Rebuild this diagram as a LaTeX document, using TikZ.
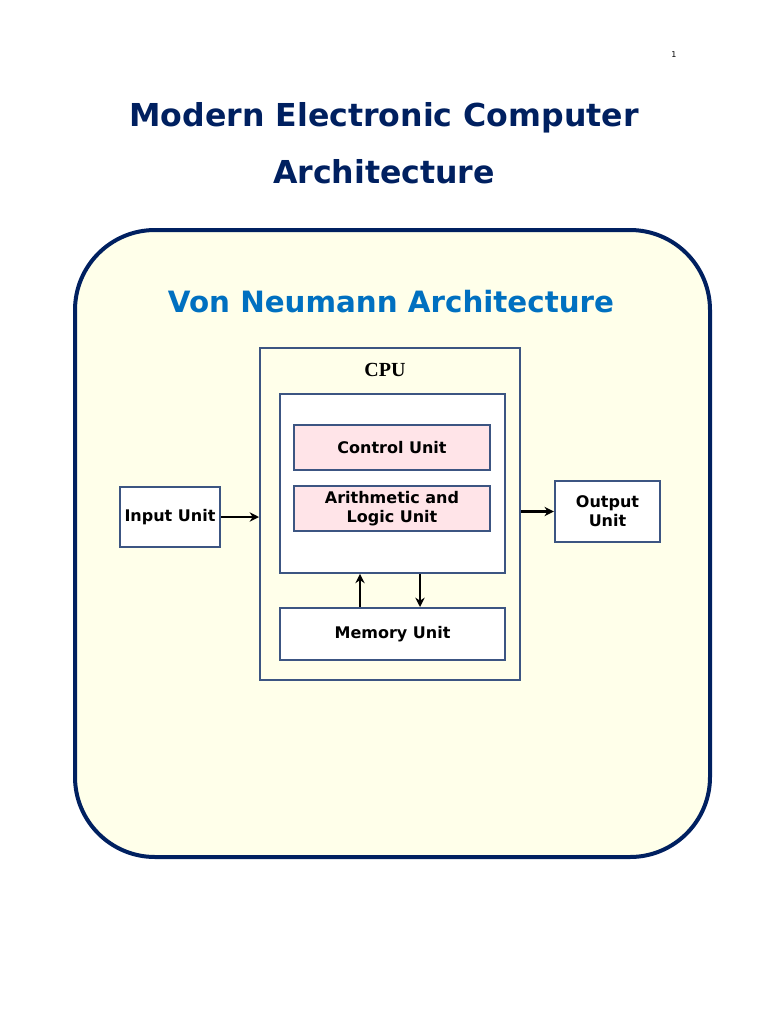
\documentclass[tikz,border=0pt]{standalone}
\usepackage{fontspec}
\setmainfont{DejaVu Sans}
\usetikzlibrary{positioning,arrows.meta}
\definecolor{navy}{RGB}{0,32,96}
\definecolor{vonblue}{RGB}{0,112,192}
\definecolor{panel}{RGB}{255,255,234}
\definecolor{edge}{RGB}{60,85,130}
\definecolor{unitpink}{RGB}{255,228,232}
\begin{document}
\begin{tikzpicture}[x=0.75pt,y=-0.75pt,
        box/.style={draw=edge,line width=1.5pt,inner sep=0pt,font=\bfseries\fontsize{12}{14}\selectfont,align=center},
        flow/.style={-{Stealth[length=7pt,width=7pt]},line width=2pt}]
    \useasboundingbox (0,0) rectangle (768,1024);
    \node (page) at (674,55) {\fontsize{6}{7}\selectfont 1};
    \node[text=navy,font=\bfseries\fontsize{23.7}{28}\selectfont] (title1) at (384,118) {Modern Electronic Computer};
    \node[text=navy,font=\bfseries\fontsize{23.7}{28}\selectfont] (title2) at (384,172) {Architecture};
    \draw[navy,line width=3pt,fill=panel,rounded corners=60pt] (75,230) rectangle (710,857);
    \node[text=vonblue,font=\bfseries\fontsize{22}{26}\selectfont] (von) at (391,302) {Von Neumann Architecture};
    % cpu and its parts
    \node[box,minimum width=195pt,minimum height=249pt] (cpu) at (390,514) {};
    \node[font=\bfseries\fontsize{15}{18}\selectfont] (cpulabel) at (385,370) {\fontspec{Liberation Serif}CPU};
    \node[box,fill=white,minimum width=169pt,minimum height=134pt] (core) at (392.5,483.5) {};
    \node[box,fill=unitpink,minimum width=147pt,minimum height=34pt] (control) at (392,447.5) {Control Unit};
    \node[box,fill=unitpink,minimum width=147pt,minimum height=34pt] (alu) at (392,508.5) {Arithmetic and\\Logic Unit};
    \node[box,fill=white,minimum width=169pt,minimum height=39pt] (memory) at (392.5,634) {Memory Unit};
    \node[box,fill=white,minimum width=75pt,minimum height=45pt] (input) at (170,517) {Input Unit};
    \node[box,fill=white,minimum width=79pt,minimum height=46pt] (output) at (607.5,511.5) {Output\\Unit};
    % connectors
    \draw[flow] (input.east) -- (cpu.west |- input.east);
    \draw[flow] (cpu.east |- output.west) -- (output.west);
    \draw[flow] (memory.north -| 360,0) -- (core.south -| 360,0);
    \draw[flow] (core.south -| 420,0) -- (memory.north -| 420,0);
\end{tikzpicture}
\end{document}
